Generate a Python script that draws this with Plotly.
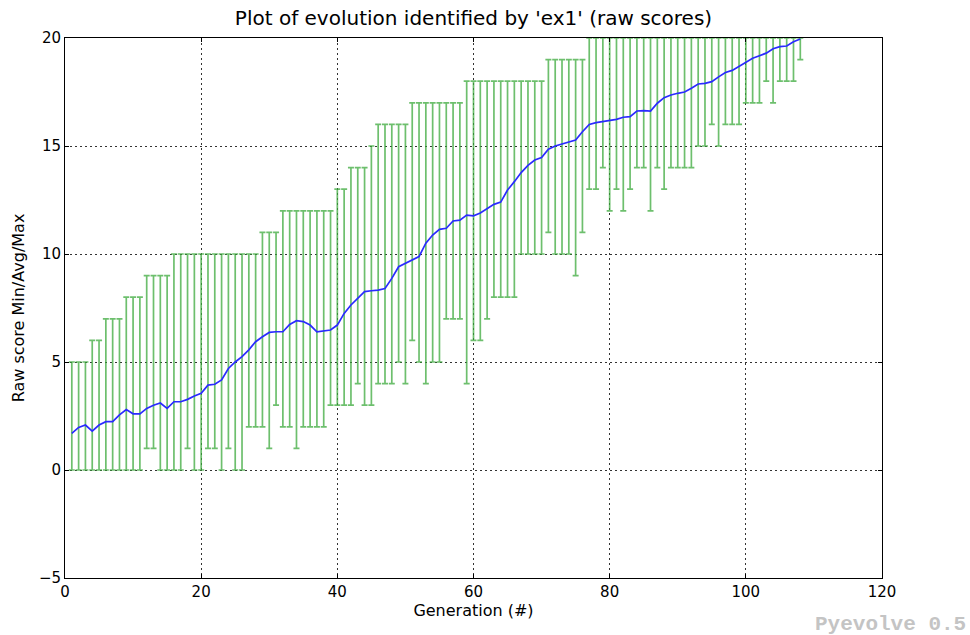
import plotly.graph_objects as go

generations = list(range(1, 109))

max_scores = ([5]*3 + [6]*2 + [7]*3 + [8]*3 + [9]*4 + [10]*13 + [11]*3 + [12]*8 +
              [13]*2 + [14]*3 + [15] + [16]*5 + [17]*8 + [18]*12 + [19]*6 + [20]*32)

min_scores = ([0]*11 + [1]*2 + [0]*4 + [1] + [0]*2 + [1]*2 + [0] + [1] + [0]*2 +
              [2]*3 + [1] + [3] + [2]*2 + [1] + [2]*4 + [3]*4 + [4] + [3]*2 + [4]*3 +
              [5] + [4] + [6] + [5] + [4] + [5]*2 + [7]*3 + [4] + [6]*2 + [7] + [8]*4 +
              [10]*4 + [11] + [10]*3 + [9] + [11] + [13]*2 + [14] + [12] + [13] + [12] +
              [13] + [14]*2 + [12] + [14] + [13] + [14]*4 + [15]*2 + [16] + [15] +
              [16]*3 + [17]*3 + [18] + [17] + [18]*3 + [19])

avg_scores = [1.70, 1.97, 2.08, 1.80, 2.08, 2.24, 2.24, 2.55, 2.80, 2.60,
              2.60, 2.85, 3.00, 3.10, 2.85, 3.16, 3.16, 3.27, 3.43, 3.55,
              3.93, 3.97, 4.17, 4.70, 5.00, 5.25, 5.56, 5.94, 6.17, 6.37,
              6.40, 6.40, 6.74, 6.91, 6.87, 6.71, 6.40, 6.44, 6.48, 6.71,
              7.25, 7.64, 7.95, 8.26, 8.30, 8.33, 8.40, 8.87, 9.41, 9.57,
              9.75, 9.88, 10.50, 10.88, 11.14, 11.19, 11.53, 11.57, 11.80, 11.77,
              11.90, 12.10, 12.30, 12.40, 12.96, 13.35, 13.77, 14.10, 14.35, 14.47,
              14.85, 15.00, 15.10, 15.17, 15.28, 15.66, 16.00, 16.08, 16.13, 16.16,
              16.23, 16.33, 16.36, 16.62, 16.64, 16.62, 16.98, 17.24, 17.36, 17.44,
              17.50, 17.67, 17.87, 17.90, 17.98, 18.20, 18.40, 18.50, 18.70, 18.87,
              19.06, 19.18, 19.30, 19.50, 19.60, 19.63, 19.83, 19.95]

x_ticks = [0, 20, 40, 60, 80, 100, 120]
y_ticks = [-5, 0, 5, 10, 15, 20]
y_tick_labels = ["\u22125", "0", "5", "10", "15", "20"]

err_plus = [mx - a for mx, a in zip(max_scores, avg_scores)]
err_minus = [a - mn for mn, a in zip(min_scores, avg_scores)]

fig = go.Figure()
fig.add_trace(go.Scatter(
    x=generations, y=avg_scores, mode="markers",
    marker=dict(size=0.1, color="rgba(0,0,0,0)"),
    error_y=dict(type="data", symmetric=False, array=err_plus, arrayminus=err_minus,
                 color="rgba(60,170,60,0.75)", thickness=1.7, width=3),
    hoverinfo="skip", showlegend=False,
))
fig.add_trace(go.Scatter(
    x=generations, y=avg_scores, mode="lines",
    line=dict(color="#2a2aff", width=1.7), showlegend=False,
))

tick_font = dict(family="DejaVu Sans", size=15, color="black")
label_font = dict(family="DejaVu Sans", size=16, color="black")
fig.update_layout(
    width=970, height=635,
    margin=dict(l=65, r=88, t=38, b=57),
    paper_bgcolor="white", plot_bgcolor="white",
    title=dict(text="Plot of evolution identified by 'ex1' (raw scores)",
               x=0.5, xref="paper", xanchor="center",
               y=1 - 18 / 635, yref="container", yanchor="middle",
               font=dict(family="DejaVu Sans", size=20, color="black")),
    xaxis=dict(range=[0, 120], tickvals=x_ticks, ticktext=[str(v) for v in x_ticks],
               showline=True, linecolor="black", linewidth=1, mirror="ticks",
               ticks="inside", ticklen=4, tickcolor="black",
               showgrid=True, gridcolor="#333333", griddash="2px,3px", gridwidth=1,
               zeroline=False, tickfont=tick_font,
               title=dict(text="Generation (#)", font=label_font, standoff=0)),
    yaxis=dict(range=[-5, 20], tickvals=y_ticks, ticktext=y_tick_labels,
               showline=True, linecolor="black", linewidth=1, mirror="ticks",
               ticks="inside", ticklen=4, tickcolor="black",
               showgrid=True, gridcolor="#333333", griddash="2px,3px", gridwidth=1,
               zeroline=False, tickfont=tick_font,
               title=dict(text="Raw score Min/Avg/Max", font=label_font, standoff=10)),
    annotations=[dict(text="<b>Pyevolve 0.5</b>", xref="paper", yref="paper",
                      x=1.105, y=-0.087, xanchor="right", yanchor="middle",
                      showarrow=False,
                      font=dict(family="Liberation Mono", size=21, color="#c4c4c4"))],
)

fig.write_html("out.html")
